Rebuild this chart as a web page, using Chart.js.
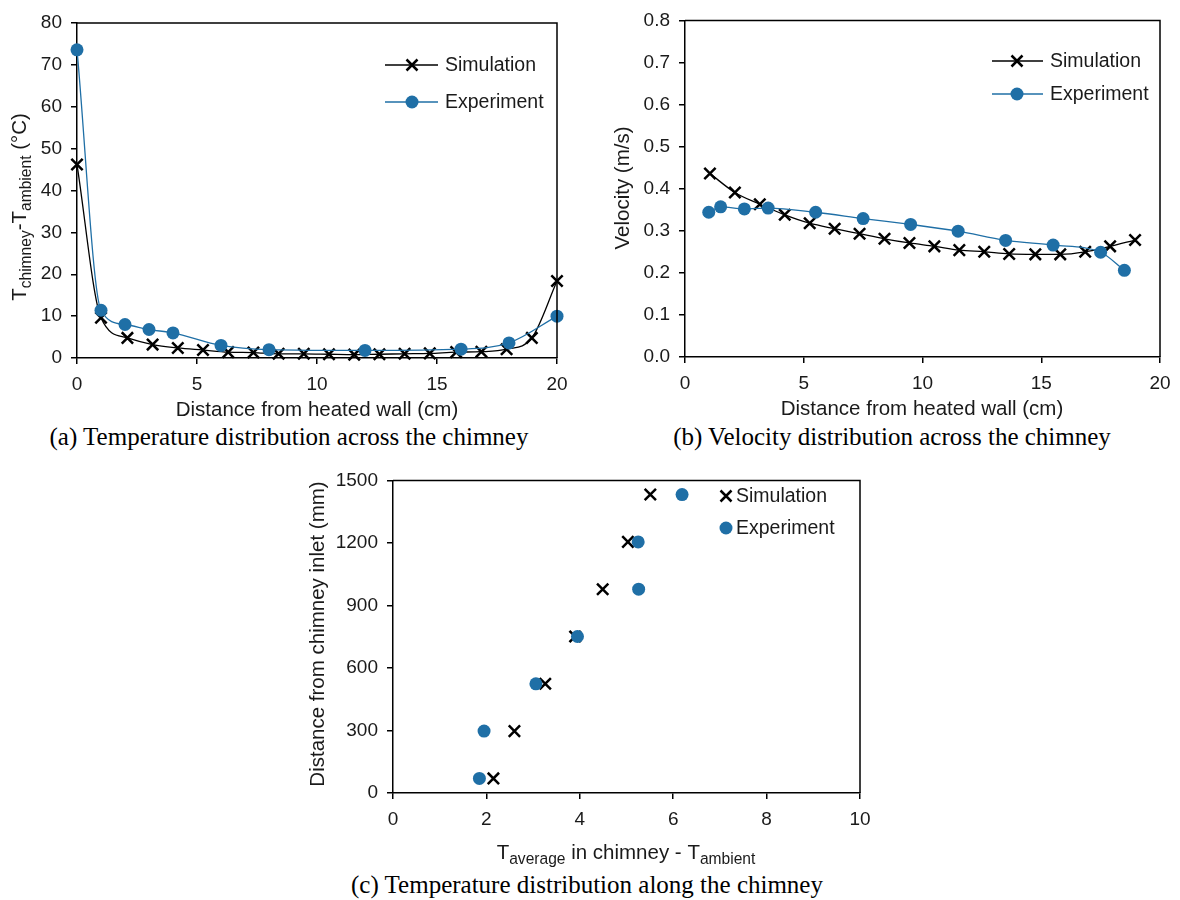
<!DOCTYPE html>
<html>
<head>
<meta charset="utf-8">
<script src="https://cdn.jsdelivr.net/npm/chart.js@4.4.0/dist/chart.umd.min.js"></script>
<style>
  body { margin: 0; background: #fff; }
  #wrap { position: relative; width: 1180px; height: 900px; overflow: hidden; }
  canvas { position: absolute; }
  .cap { position: absolute; font-family: 'Liberation Serif', 'Times New Roman', serif; font-size: 25px; line-height: 30px; color: #000; text-align: center; white-space: nowrap; }
</style>
</head>
<body>
<div id="wrap">
  <canvas id="chartA" width="585" height="422" style="left:0px;top:0px"></canvas>
  <canvas id="chartB" width="585" height="422" style="left:595px;top:0px"></canvas>
  <canvas id="chartC" width="590" height="410" style="left:290px;top:460px"></canvas>
  <div class="cap" style="left:39px;top:422px;width:500px">(a) Temperature distribution across the chimney</div>
  <div class="cap" style="left:642px;top:422px;width:500px">(b) Velocity distribution across the chimney</div>
  <div class="cap" style="left:337px;top:870px;width:500px">(c) Temperature distribution along the chimney</div>
</div>
<script>
// data
const simAX = [0, 1, 2.1, 3.15, 4.2, 5.25, 6.3, 7.35, 8.4, 9.45, 10.5, 11.55, 12.6, 13.65, 14.7, 15.8, 16.85, 17.9, 18.95, 20];
const simAY = [46.2, 9.6, 4.8, 3.2, 2.4, 1.9, 1.4, 1.3, 1.0, 1.0, 0.9, 0.8, 0.9, 1.0, 1.1, 1.4, 1.5, 2.1, 4.8, 18.4];
const expAX = [0, 1, 2, 3, 4, 6, 8, 12, 16, 18, 20];
const expAY = [73.6, 11.4, 8.0, 6.8, 6.0, 3.0, 2.0, 1.8, 2.1, 3.6, 10.0];

const simBX = [1.05, 2.1, 3.15, 4.2, 5.25, 6.3, 7.35, 8.4, 9.45, 10.5, 11.55, 12.6, 13.65, 14.75, 15.8, 16.85, 17.9, 18.95];
const simBY = [0.436, 0.391, 0.363, 0.338, 0.318, 0.305, 0.293, 0.281, 0.271, 0.263, 0.254, 0.25, 0.245, 0.244, 0.244, 0.25, 0.263, 0.278];
const expBX = [1, 1.5, 2.5, 3.5, 5.5, 7.5, 9.5, 11.5, 13.5, 15.5, 17.5, 18.5];
const expBY = [0.344, 0.357, 0.352, 0.354, 0.344, 0.329, 0.315, 0.299, 0.277, 0.266, 0.249, 0.206];

const heightC = [70, 297, 524, 751, 978, 1205, 1432];
const simCX = [2.15, 2.6, 3.26, 3.9, 4.49, 5.03, 5.51];
const expCX = [1.85, 1.95, 3.06, 3.95, 5.26, 5.25, 6.19];

const seriesNames = ['Simulation', 'Experiment'];

const BLUE = '#1F6FA6';
const TXT = '#1a1a1a';
Chart.defaults.font.family = "'Liberation Sans', Arial, sans-serif";
Chart.defaults.color = TXT;

function pts(xs, ys) {
    return xs.map((x, i) => ({ x: x, y: ys[i] }));
}

// draws an excel-like marker
function marker(c, kind, x, y) {
    c.save();
    if (kind === 'cross') {
        const h = 5.5;
        c.strokeStyle = '#000';
        c.lineWidth = 2.5;
        c.beginPath();
        c.moveTo(x - h, y - h); c.lineTo(x + h, y + h);
        c.moveTo(x + h, y - h); c.lineTo(x - h, y + h);
        c.stroke();
    } else {
        c.fillStyle = BLUE;
        c.beginPath();
        c.arc(x, y, 6.5, 0, Math.PI * 2);
        c.fill();
    }
    c.restore();
}

// text with subscripts, centred on (x, y)
function richText(c, parts, x, y, size, rotate) {
    c.save();
    c.translate(x, y);
    if (rotate) c.rotate(-Math.PI / 2);
    c.fillStyle = TXT;
    c.textBaseline = 'middle';
    c.textAlign = 'left';
    const subSize = size * 0.76;
    let total = 0;
    parts.forEach(p => {
        c.font = (p.sub ? subSize : size) + "px 'Liberation Sans', Arial, sans-serif";
        p.w = c.measureText(p.t).width;
        total += p.w;
    });
    let cx = -total / 2;
    parts.forEach(p => {
        c.font = (p.sub ? subSize : size) + "px 'Liberation Sans', Arial, sans-serif";
        c.fillText(p.t, cx, p.sub ? size * 0.32 : 0);
        cx += p.w;
    });
    c.restore();
}

const boxPlugin = {
    id: 'box',
    afterDraw(chart) {
        const a = chart.chartArea, c = chart.ctx;
        c.save();
        c.strokeStyle = '#000';
        c.lineWidth = 1.5;
        c.beginPath();
        c.moveTo(a.left, a.top);
        c.lineTo(a.right, a.top);
        c.lineTo(a.right, a.bottom);
        c.stroke();
        c.restore();
    }
};

const titlePlugin = {
    id: 'richTitles',
    afterDraw(chart, args, opts) {
        const c = chart.ctx;
        if (opts.x) richText(c, opts.x.parts, opts.x.cx, opts.x.cy, 20.5, false);
        if (opts.y) richText(c, opts.y.parts, opts.y.cx, opts.y.cy, 20.5, true);
    }
};

const legendPlugin = {
    id: 'sideLegend',
    afterDraw(chart, args, opts) {
        const c = chart.ctx;
        opts.items.forEach(it => {
            if (opts.line) {
                c.save();
                c.strokeStyle = it.color;
                c.lineWidth = 1.3;
                c.beginPath();
                c.moveTo(opts.x0, it.y);
                c.lineTo(opts.x1, it.y);
                c.stroke();
                c.restore();
            }
            marker(c, it.kind, opts.mx, it.y);
            c.save();
            c.fillStyle = TXT;
            c.font = "19.5px 'Liberation Sans', Arial, sans-serif";
            c.textBaseline = 'middle';
            c.fillText(it.label, opts.tx, it.y + 1);
            c.restore();
        });
    }
};

function axis(min, max, step, size, fmt) {
    return {
        type: 'linear',
        min: min,
        max: max,
        ticks: {
            stepSize: step,
            color: TXT,
            font: { size: 19 },
            padding: 9,
            maxRotation: 0,
            callback: fmt || (v => v)
        },
        grid: { drawOnChartArea: false, tickLength: 6, color: '#000', lineWidth: 1.5 },
        border: { color: '#000', width: 1.5 },
        afterFit: s => { if (s.isHorizontal()) s.height = size; else s.width = size; }
    };
}

const crossDs = {
    borderColor: '#000',
    backgroundColor: '#000',
    borderWidth: 1.3,
    pointStyle: 'crossRot',
    pointRadius: 8,
    pointBorderWidth: 2.5,
    pointHoverRadius: 8,
    clip: false,
    order: 2
};
const dotDs = {
    borderColor: BLUE,
    backgroundColor: BLUE,
    borderWidth: 1.3,
    pointStyle: 'circle',
    pointRadius: 6.5,
    pointBorderWidth: 0,
    pointHoverRadius: 6.5,
    clip: false,
    order: 1
};

// chart (a) temperature across the chimney
new Chart(document.getElementById('chartA'), {
    type: 'scatter',
    data: {
        datasets: [
            Object.assign({ label: seriesNames[0], data: pts(simAX, simAY), showLine: true, cubicInterpolationMode: 'monotone' }, crossDs),
            Object.assign({ label: seriesNames[1], data: pts(expAX, expAY), showLine: true, cubicInterpolationMode: 'monotone' }, dotDs)
        ]
    },
    options: {
        responsive: false,
        animation: false,
        devicePixelRatio: 1,
        layout: { padding: { top: 23, right: 28, left: 0, bottom: 0 } },
        scales: {
            x: axis(0, 20, 5, 64),
            y: axis(0, 80, 10, 77)
        },
        plugins: {
            legend: { display: false },
            tooltip: { enabled: false },
            richTitles: {
                x: { parts: [{ t: 'Distance from heated wall (cm)' }], cx: 317, cy: 410 },
                y: { parts: [{ t: 'T' }, { t: 'chimney', sub: true }, { t: '-T' }, { t: 'ambient', sub: true }, { t: ' (°C)' }], cx: 20, cy: 207 }
            },
            sideLegend: {
                line: true, x0: 385, x1: 438, mx: 412, tx: 445,
                items: [
                    { label: seriesNames[0], kind: 'cross', color: '#000', y: 65 },
                    { label: seriesNames[1], kind: 'dot', color: BLUE, y: 102 }
                ]
            }
        }
    },
    plugins: [boxPlugin, titlePlugin, legendPlugin]
});

// chart (b) velocity across the chimney
new Chart(document.getElementById('chartB'), {
    type: 'scatter',
    data: {
        datasets: [
            Object.assign({ label: seriesNames[0], data: pts(simBX, simBY), showLine: true, cubicInterpolationMode: 'monotone' }, crossDs),
            Object.assign({ label: seriesNames[1], data: pts(expBX, expBY), showLine: true, cubicInterpolationMode: 'monotone' }, dotDs)
        ]
    },
    options: {
        responsive: false,
        animation: false,
        devicePixelRatio: 1,
        layout: { padding: { top: 18, right: 20, left: 0, bottom: 0 } },
        scales: {
            x: axis(0, 20, 5, 65),
            y: axis(0, 0.8, 0.1, 90, v => v.toFixed(1))
        },
        plugins: {
            legend: { display: false },
            tooltip: { enabled: false },
            richTitles: {
                x: { parts: [{ t: 'Distance from heated wall (cm)' }], cx: 327, cy: 409 },
                y: { parts: [{ t: 'Velocity (m/s)' }], cx: 28, cy: 188 }
            },
            sideLegend: {
                line: true, x0: 397, x1: 448, mx: 422, tx: 455,
                items: [
                    { label: seriesNames[0], kind: 'cross', color: '#000', y: 61 },
                    { label: seriesNames[1], kind: 'dot', color: BLUE, y: 94 }
                ]
            }
        }
    },
    plugins: [boxPlugin, titlePlugin, legendPlugin]
});

// chart (c) temperature along the chimney
new Chart(document.getElementById('chartC'), {
    type: 'scatter',
    data: {
        datasets: [
            Object.assign({ label: seriesNames[0], data: pts(simCX, heightC) }, crossDs),
            Object.assign({ label: seriesNames[1], data: pts(expCX, heightC) }, dotDs)
        ]
    },
    options: {
        responsive: false,
        animation: false,
        devicePixelRatio: 1,
        layout: { padding: { top: 16, right: 20, left: 0, bottom: 0 } },
        scales: {
            x: axis(0, 10, 2, 77),
            y: axis(0, 1500, 300, 103)
        },
        plugins: {
            legend: { display: false },
            tooltip: { enabled: false },
            richTitles: {
                x: { parts: [{ t: 'T' }, { t: 'average', sub: true }, { t: ' in chimney - T' }, { t: 'ambient', sub: true }], cx: 336, cy: 393 },
                y: { parts: [{ t: 'Distance from chimney inlet (mm)' }], cx: 28, cy: 174 }
            },
            sideLegend: {
                line: false, mx: 436, tx: 446,
                items: [
                    { label: seriesNames[0], kind: 'cross', color: '#000', y: 36 },
                    { label: seriesNames[1], kind: 'dot', color: BLUE, y: 68 }
                ]
            }
        }
    },
    plugins: [boxPlugin, titlePlugin, legendPlugin]
});
</script>
</body>
</html>
